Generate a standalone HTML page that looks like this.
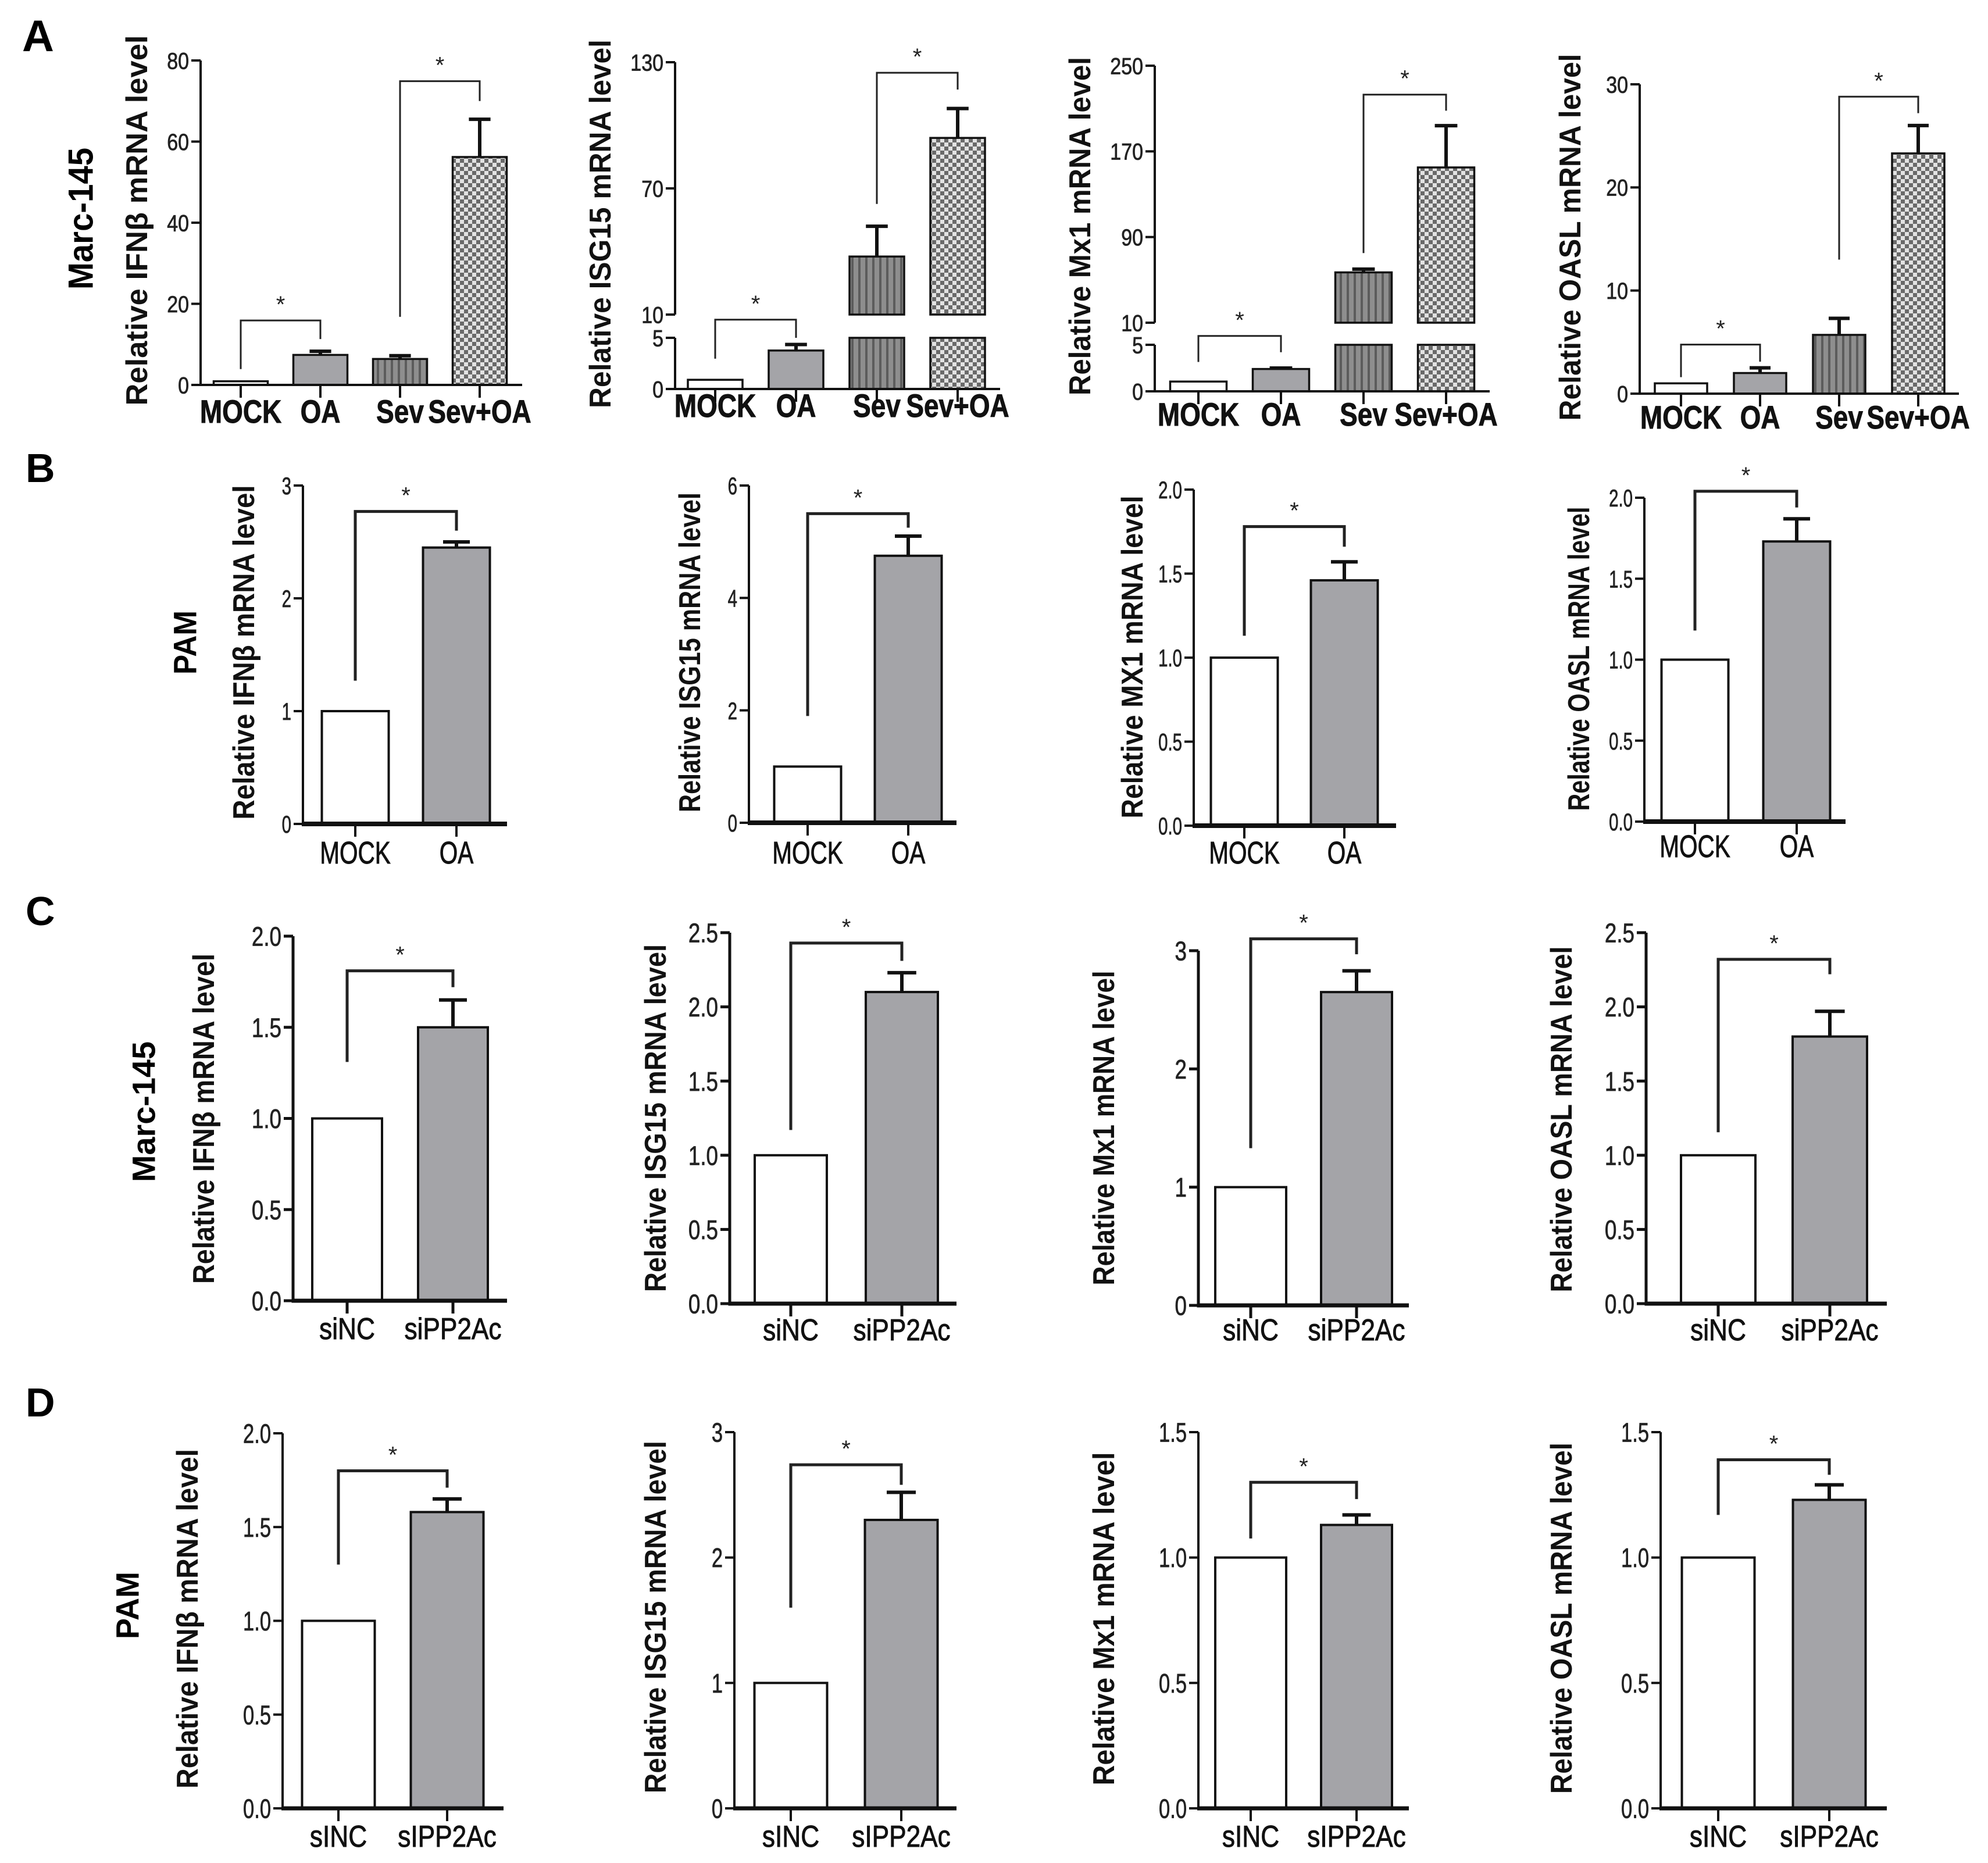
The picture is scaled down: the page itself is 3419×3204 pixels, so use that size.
<!DOCTYPE html>
<html><head><meta charset="utf-8"><style>
html,body{margin:0;padding:0;background:#fff;}
svg{display:block;font-family:"Liberation Sans",Arial,sans-serif;}
</style></head><body>
<svg id="fig" width="3419" height="3204" viewBox="0 0 3419 3204" xmlns="http://www.w3.org/2000/svg">
<defs>
<pattern id="stripes" patternUnits="userSpaceOnUse" width="12" height="12">
<rect width="12" height="12" fill="#8e8e8e"/><rect x="0" width="4" height="12" fill="#5c5c5c"/>
</pattern>
<pattern id="checks" patternUnits="userSpaceOnUse" width="14" height="14">
<rect width="14" height="14" fill="#e2e2e2"/><rect width="7" height="7" fill="#6a6a6a"/><rect x="7" y="7" width="7" height="7" fill="#6a6a6a"/>
</pattern>
</defs>
<text x="38" y="88" font-size="76" font-weight="bold">A</text>
<text x="44" y="829" font-size="70" font-weight="bold">B</text>
<text x="44" y="1591" font-size="70" font-weight="bold">C</text>
<text x="44" y="2436" font-size="70" font-weight="bold">D</text>
<text transform="translate(139,376) rotate(-90)" text-anchor="middle" dominant-baseline="central" font-size="60" font-weight="bold" textLength="244" lengthAdjust="spacingAndGlyphs">Marc-145</text>
<text transform="translate(318,1105) rotate(-90)" text-anchor="middle" dominant-baseline="central" font-size="56" font-weight="bold" textLength="110" lengthAdjust="spacingAndGlyphs">PAM</text>
<text transform="translate(247,1912) rotate(-90)" text-anchor="middle" dominant-baseline="central" font-size="56" font-weight="bold" textLength="242" lengthAdjust="spacingAndGlyphs">Marc-145</text>
<text transform="translate(219,2761) rotate(-90)" text-anchor="middle" dominant-baseline="central" font-size="56" font-weight="bold" textLength="116" lengthAdjust="spacingAndGlyphs">PAM</text>
</svg>
<script>
// ---------- DATA ----------
const categoriesA = ['MOCK', 'OA', 'Sev', 'Sev+OA'];
const categoriesB = ['MOCK', 'OA'];
const categoriesC = ['siNC', 'siPP2Ac'];
const categoriesD = ['sINC', 'sIPP2Ac'];
const titlesA = ['Relative IFNβ mRNA level', 'Relative ISG15 mRNA level', 'Relative Mx1 mRNA level', 'Relative OASL mRNA level'];
const titlesB = ['Relative IFNβ mRNA level', 'Relative ISG15 mRNA level', 'Relative MX1 mRNA level', 'Relative OASL mRNA level'];
const titlesC = ['Relative IFNβ mRNA level', 'Relative ISG15 mRNA level', 'Relative Mx1 mRNA level', 'Relative OASL mRNA level'];
const titlesD = ['Relative IFNβ mRNA level', 'Relative ISG15 mRNA level', 'Relative Mx1 mRNA level', 'Relative OASL mRNA level'];

const valuesA = [[0.9, 7.4, 6.4, 56.2], [0.9, 3.76, 37.6, 94], [1.05, 2.4, 57, 155], [1.0, 2.0, 5.7, 23.3]];
const errorsA = [[0, 8.3, 7.2, 65.5], [0, 4.35, 52, 108], [0, 2.5, 60, 194], [0, 2.5, 7.3, 26]];
const domainsA = [[0, 80], [0, 5, 10, 130], [0, 5, 10, 250], [0, 30]];
const ticksA = [[0, 20, 40, 60, 80], [0, 5, 10, 70, 130], [0, 5, 10, 90, 170, 250], [0, 10, 20, 30]];
const tickLabelsA = [['0', '20', '40', '60', '80'], ['0', '5', '10', '70', '130'], ['0', '5', '10', '90', '170', '250'], ['0', '10', '20', '30']];
const bracketsA = [[[15.9, 3.9, 11.3, 0, 1], [74.9, 16.8, 70, 2, 3]], [[8.9, 2.96, 5.0, 0, 1], [125, 62.6, 117, 2, 3]], [[7, 3.16, 4.2, 0, 1], [223, 75, 208, 2, 3]], [[4.76, 1.6, 3.1, 0, 1], [28.8, 13, 27.2, 2, 3]]];

const valuesB = [[1, 2.45], [1, 4.75], [1, 1.46], [1, 1.73]];
const errorsB = [[0, 2.5], [0, 5.1], [0, 1.57], [0, 1.87]];
const domainsB = [[0, 3], [0, 6], [0, 2], [0, 2]];
const ticksB = [[0, 1, 2, 3], [0, 2, 4, 6], [0, 0.5, 1, 1.5, 2], [0, 0.5, 1, 1.5, 2]];
const tickLabelsB = [['0', '1', '2', '3'], ['0', '2', '4', '6'], ['0.0', '0.5', '1.0', '1.5', '2.0'], ['0.0', '0.5', '1.0', '1.5', '2.0']];
const bracketsB = [[[2.77, 1.27, 2.6, 0, 1]], [[5.5, 1.9, 5.25, 0, 1]], [[1.78, 1.13, 1.66, 0, 1]], [[2.04, 1.18, 1.94, 0, 1]]];

const valuesC = [[1, 1.5], [1, 2.1], [1, 2.65], [1, 1.8]];
const errorsC = [[0, 1.65], [0, 2.23], [0, 2.83], [0, 1.97]];
const domainsC = [[0, 2], [0, 2.5], [0, 3], [0, 2.5]];
const ticksC = [[0, 0.5, 1, 1.5, 2], [0, 0.5, 1, 1.5, 2, 2.5], [0, 1, 2, 3], [0, 0.5, 1, 1.5, 2, 2.5]];
const tickLabelsC = [['0.0', '0.5', '1.0', '1.5', '2.0'], ['0.0', '0.5', '1.0', '1.5', '2.0', '2.5'], ['0', '1', '2', '3'], ['0.0', '0.5', '1.0', '1.5', '2.0', '2.5']];
const bracketsC = [[[1.81, 1.31, 1.72, 0, 1]], [[2.43, 1.17, 2.31, 0, 1]], [[3.10, 1.33, 2.97, 0, 1]], [[2.32, 1.155, 2.22, 0, 1]]];

const valuesD = [[1, 1.58], [1, 2.3], [1, 1.13], [1, 1.23]];
const errorsD = [[0, 1.65], [0, 2.52], [0, 1.17], [0, 1.29]];
const domainsD = [[0, 2], [0, 3], [0, 1.5], [0, 1.5]];
const ticksD = [[0, 0.5, 1, 1.5, 2], [0, 1, 2, 3], [0, 0.5, 1, 1.5], [0, 0.5, 1, 1.5]];
const tickLabelsD = [['0.0', '0.5', '1.0', '1.5', '2.0'], ['0', '1', '2', '3'], ['0.0', '0.5', '1.0', '1.5'], ['0.0', '0.5', '1.0', '1.5']];
const bracketsD = [[[1.80, 1.30, 1.71, 0, 1]], [[2.74, 1.6, 2.58, 0, 1]], [[1.30, 1.076, 1.233, 0, 1]], [[1.39, 1.17, 1.33, 0, 1]]];

// ---------- LAYOUT (pixels, not data) ----------
const layout = {
  A: [
    {ax:345, xEnd:898, c0:414, step:137, bw:93, range:[662,104], labelY:727, tx:236, ty:379, tl:637},
    {ax:1161, xEnd:1720, c0:1230, step:139, bw:94, range:[669,581,541,107], labelY:717, tx:1033, ty:385, tl:634},
    {ax:1986, xEnd:2562, c0:2061, step:142, bw:97, range:[673,593,555,113], labelY:732, tx:1858, ty:389, tl:582},
    {ax:2820, xEnd:3369, c0:2891, step:136, bw:90, range:[677,145], labelY:737, tx:2701, ty:408, tl:631}],
  B: [
    {ax:521, xEnd:872, c0:611, step:174, bw:115, range:[1417,835], labelY:1485, tx:420, ty:1122, tl:575},
    {ax:1288, xEnd:1645, c0:1389, step:173, bw:115, range:[1415,835], labelY:1485, tx:1187, ty:1122, tl:550},
    {ax:2053, xEnd:2401, c0:2140, step:172, bw:115, range:[1420,842], labelY:1485, tx:1948, ty:1130, tl:555},
    {ax:2828, xEnd:3174, c0:2915, step:175, bw:115, range:[1413,856], labelY:1474, tx:2716, ty:1133, tl:523}],
  C: [
    {ax:504, xEnd:872, c0:597, step:182, bw:120, range:[2237,1610], labelY:2303, tx:351, ty:1924, tl:568},
    {ax:1255, xEnd:1645, c0:1360, step:191, bw:124, range:[2242,1604], labelY:2305, tx:1128, ty:1923, tl:598},
    {ax:2061, xEnd:2423, c0:2151, step:182, bw:122, range:[2245,1635], labelY:2305, tx:1899, ty:1940, tl:541},
    {ax:2831, xEnd:3245, c0:2955, step:192, bw:128, range:[2242,1604], labelY:2305, tx:2686, ty:1925, tl:595}],
  D: [
    {ax:486, xEnd:866, c0:582, step:187, bw:125, range:[3110,2465], labelY:3176, tx:323, ty:2784, tl:584},
    {ax:1263, xEnd:1645, c0:1360, step:190, bw:125, range:[3110,2463], labelY:3176, tx:1128, ty:2781, tl:606},
    {ax:2061, xEnd:2423, c0:2151, step:182, bw:122, range:[3110,2463], labelY:3176, tx:1899, ty:2784, tl:573},
    {ax:2856, xEnd:3245, c0:2955, step:191, bw:125, range:[3110,2463], labelY:3176, tx:2686, ty:2783, tl:604}]
};
const style = {
  A: {axisW:4, xAxisW:4, barW:3.5, tickFont:40, tickScale:0.85, labFont:56, labScale:0.82, labWeight:'bold', bracketW:3, fills:['#ffffff','#a4a4a8','url(#stripes)','url(#checks)']},
  B: {axisW:4, xAxisW:8, barW:4, tickFont:42, tickScale:0.7, labFont:54, labScale:0.75, labWeight:'normal', bracketW:5, fills:['#ffffff','#a4a4a8']},
  C: {axisW:5, xAxisW:7, barW:4, tickFont:46, tickScale:0.8, labFont:52, labScale:0.85, labWeight:'normal', bracketW:5, fills:['#ffffff','#a4a4a8']},
  D: {axisW:4, xAxisW:7, barW:4, tickFont:46, tickScale:0.75, labFont:52, labScale:0.85, labWeight:'normal', bracketW:5, fills:['#ffffff','#a4a4a8']}
};
const rows = {
  A: {cats:categoriesA, titles:titlesA, values:valuesA, errors:errorsA, domains:domainsA, ticks:ticksA, tickLabels:tickLabelsA, brackets:bracketsA},
  B: {cats:categoriesB, titles:titlesB, values:valuesB, errors:errorsB, domains:domainsB, ticks:ticksB, tickLabels:tickLabelsB, brackets:bracketsB},
  C: {cats:categoriesC, titles:titlesC, values:valuesC, errors:errorsC, domains:domainsC, ticks:ticksC, tickLabels:tickLabelsC, brackets:bracketsC},
  D: {cats:categoriesD, titles:titlesD, values:valuesD, errors:errorsD, domains:domainsD, ticks:ticksD, tickLabels:tickLabelsD, brackets:bracketsD}
};

// ---------- DRAWING ----------
const NS = 'http://www.w3.org/2000/svg';
const svg = document.getElementById('fig');
function mk(tag, attrs, parent) {
  const e = document.createElementNS(NS, tag);
  for (const k in attrs) e.setAttribute(k, attrs[k]);
  parent.appendChild(e);
  return e;
}
function yScale(domain, range) {
  return function (v) {
    for (let i = 0; i < domain.length - 1; i++) {
      if (v <= domain[i + 1] || i === domain.length - 2) {
        const t = (v - domain[i]) / (domain[i + 1] - domain[i]);
        return range[i] + t * (range[i + 1] - range[i]);
      }
    }
  };
}

for (const r of ['A', 'B', 'C', 'D']) {
  const d = rows[r], st = style[r];
  for (let p = 0; p < 4; p++) {
    const L = layout[r][p];
    const dom = d.domains[p];
    const y = yScale(dom, L.range);
    const broken = dom.length === 4;
    const xc = i => L.c0 + i * L.step;
    const g = mk('g', {}, svg);
    
    

    const segs = broken ? [[0, dom[1]], [dom[2], dom[3]]] : [[dom[0], dom[dom.length - 1]]];
    segs.forEach(s => {
      const ln = mk('line', {x1:L.ax, x2:L.ax, y1:y(s[0]) + (s[0] === 0 ? st.xAxisW / 2 : 0), y2:y(s[1]), stroke:'#111', 'stroke-width':st.axisW}, g);
      
      
    });
    d.ticks[p].forEach((t, i) => {
      const ty = y(t);
      const tk = mk('line', {x1:L.ax - 16, x2:L.ax, y1:ty, y2:ty, stroke:'#111', 'stroke-width':st.axisW}, g);
      
      
      const tl = mk('text', {transform:'translate(' + (L.ax - 20) + ',' + (ty + st.tickFont * 0.36) + ') scale(' + st.tickScale + ',1)', 'text-anchor':'end', 'font-size':st.tickFont, fill:'#222', stroke:'#222', 'stroke-width':0.8}, g);
      tl.textContent = d.tickLabels[p][i];
      
      
    });
    d.values[p].forEach((v, i) => {
      const x0 = xc(i) - L.bw / 2;
      const fill = st.fills[i];
      const parts = (broken && v > dom[2]) ? [[0, dom[1]], [dom[2], v]] : [[0, v]];
      parts.forEach(s => {
        const top = y(s[1]), bot = y(s[0]);
        const b = mk('rect', {x:x0, y:top, width:L.bw, height:bot - top, fill:fill, stroke:'#111', 'stroke-width':st.barW}, g);
        
        
      });
      const e = d.errors[p][i];
      if (e > v) {
        const eb = mk('path', {d:'M' + xc(i) + ',' + y(v) + 'V' + y(e) + 'M' + (xc(i) - L.bw * 0.2) + ',' + y(e) + 'H' + (xc(i) + L.bw * 0.2), stroke:'#111', 'stroke-width':6, fill:'none'}, g);
        
        
      }
    });
    const xa = mk('line', {x1:L.ax - st.axisW / 2, x2:L.xEnd, y1:y(0), y2:y(0), stroke:'#111', 'stroke-width':st.xAxisW}, g);
    
    
    d.cats.forEach((c, i) => {
      const xt = mk('line', {x1:xc(i), x2:xc(i), y1:y(0), y2:y(0) + 22, stroke:'#111', 'stroke-width':st.axisW}, g);
      
      
      const lb = mk('text', {transform:'translate(' + xc(i) + ',' + L.labelY + ') scale(' + st.labScale + ',1)', 'text-anchor':'middle', 'font-size':st.labFont, 'font-weight':st.labWeight, fill:'#111', stroke:'#111', 'stroke-width':1}, g);
      lb.textContent = c;
      
      
    });
    d.brackets[p].forEach(bk => {
      const xa1 = xc(bk[3]), xb1 = xc(bk[4]);
      const br = mk('path', {d:'M' + xa1 + ',' + y(bk[1]) + 'V' + y(bk[0]) + 'H' + xb1 + 'V' + y(bk[2]), stroke:'#222', 'stroke-width':st.bracketW, fill:'none'}, g);
      
      
      const sx = mk('text', {x:(xa1 + xb1) / 2, y:y(bk[0]) - 14, 'text-anchor':'middle', 'font-size':40, fill:'#222'}, g);
      sx.textContent = '*';
      
      
    });
    const tt = mk('text', {transform:'translate(' + L.tx + ',' + L.ty + ') rotate(-90)', 'text-anchor':'middle', 'dominant-baseline':'central', 'font-size':52, 'font-weight':'bold', textLength:L.tl, lengthAdjust:'spacingAndGlyphs', fill:'#111'}, g);
    tt.textContent = d.titles[p];
    
    
  }
}
</script>
</body></html>
